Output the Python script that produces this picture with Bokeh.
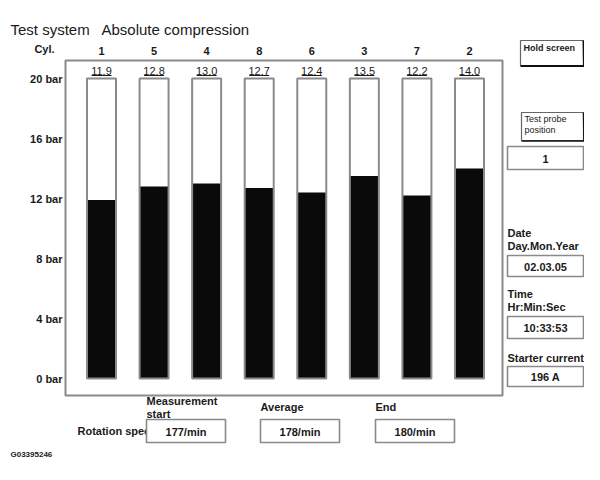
from bokeh.plotting import figure
from bokeh.models import Range1d, ColumnDataSource
from bokeh.embed import file_html
from bokeh.resources import INLINE
from bokeh.core.properties import value

# ---------------- data ----------------
cylinders = ["1", "5", "4", "8", "6", "3", "7", "2"]
compression = [11.9, 12.8, 13.0, 12.7, 12.4, 13.5, 12.2, 14.0]
full_scale = 20
tick_values = [0, 4, 8, 12, 16, 20]
tick_labels = ["0 bar", "4 bar", "8 bar", "12 bar", "16 bar", "20 bar"]
probe_position = "1"
date_text = "02.03.05"
time_text = "10:33:53"
starter_current = "196 A"
speed_labels = ["Measurement\nstart", "Average", "End"]
speed_values = ["177/min", "178/min", "180/min"]

# ---------------- coordinate helpers (reference pixels -> data) ----------------
PX0, PDX = 101.0, 52.57   # x pixel of cylinder index 0, pixels per index
PY0, PDY = 378.0, 15.0    # y pixel of 0 bar, pixels per bar


def X(px):
    return (px - PX0) / PDX


def Y(py):
    return (PY0 - py) / PDY


def W(pw):
    return pw / PDX


def H(ph):
    return ph / PDY


FONT = value("Liberation Sans")
GRAY = "#8a8a8a"
INK = "#1a1a1a"

p = figure(width=584, height=464, output_backend="svg", toolbar_location=None,
           x_range=Range1d(X(0), X(584)), y_range=Range1d(Y(464), Y(0)),
           x_axis_type=None, y_axis_type=None, min_border=0)
p.grid.visible = False
p.outline_line_color = None
p.background_fill_color = "white"


def txt(px, py, s, size="11px", bold=True, align="left", baseline="middle"):
    p.text(x=[X(px)], y=[Y(py)], text=[s], text_font=FONT, text_font_size=size,
           text_font_style="bold" if bold else "normal", text_align=align,
           text_baseline=baseline, text_color=INK, text_line_height=1.15)


def box(x0, y0, x1, y1, lw=1.6, color=GRAY):
    p.quad(left=[X(x0)], right=[X(x1)], top=[Y(y0)], bottom=[Y(y1)],
           fill_color="white", line_color=color, line_width=lw)


# title
txt(10, 29, "Test system", size="15px", bold=False)
txt(101, 29, "Absolute compression", size="15px", bold=False)

# outer frame
p.quad(left=[X(65)], right=[X(502)], top=[Y(60)], bottom=[Y(395)],
       fill_color=None, line_color=GRAY, line_width=2)

# bars
idx = list(range(len(cylinders)))
src = ColumnDataSource(dict(x=idx, v=compression, cyl=cylinders,
                            lbl=[f"{v:.1f}" for v in compression],
                            full=[full_scale] * len(idx)))
bw = W(29)
p.vbar(x="x", width=bw, bottom=0, top="full", source=src,
       fill_color="white", line_color=None)
p.vbar(x="x", width=bw, bottom=0, top="v", source=src,
       fill_color="#0a0a0a", line_color=None)
p.vbar(x="x", width=bw, bottom=0, top="full", source=src,
       fill_color=None, line_color=GRAY, line_width=2)

# value labels (underlined) above each bar
p.text(x="x", y=full_scale + H(8), text="lbl", source=src, text_font=FONT,
       text_font_size="11px", text_align="center", text_baseline="middle",
       text_color=INK)
p.segment(x0=[i - W(10) for i in idx], x1=[i + W(10) for i in idx],
          y0=[full_scale + H(3)] * len(idx), y1=[full_scale + H(3)] * len(idx),
          line_color=INK, line_width=1)

# cylinder numbers
p.text(x="x", y=Y(50), text="cyl", source=src, text_font=FONT,
       text_font_size="11px", text_font_style="bold", text_align="center",
       text_baseline="middle", text_color=INK)
txt(44, 48, "Cyl.", align="center")

# y tick labels
p.text(x=[X(62)] * len(tick_values), y=tick_values, text=tick_labels,
       text_font=FONT, text_font_size="11px", text_font_style="bold",
       text_align="right", text_baseline="middle", text_color=INK)

# right panel
RX = 583
box(520, 40, RX, 65, lw=1.2, color="#666")
p.segment(x0=[X(520), X(RX)], x1=[X(RX + 0.5), X(RX + 0.5)], y0=[Y(65.5), Y(40)],
          y1=[Y(65.5), Y(66)], line_color="#111", line_width=2)
txt(523, 47, "Hold screen", size="9px")

box(521, 112, RX, 140, lw=1.2, color="#666")
p.segment(x0=[X(521), X(RX)], x1=[X(RX + 0.5), X(RX + 0.5)], y0=[Y(140.5), Y(112)],
          y1=[Y(140.5), Y(141)], line_color="#111", line_width=1.5)
txt(524, 124, "Test probe\nposition", size="9px", bold=False)

cx = (507 + RX) / 2
box(507, 146, RX, 169)
txt(cx, 158, probe_position, align="center")

txt(507, 239, "Date\nDay.Mon.Year")
box(507, 255, RX, 276)
txt(cx, 266, date_text, align="center")

txt(507, 300, "Time\nHr:Min:Sec")
box(507, 316, RX, 338)
txt(cx, 327, time_text, align="center")

txt(507, 357, "Starter current")
box(507, 366, RX, 386)
txt(cx, 376, starter_current, align="center")

# bottom: rotation speed
txt(77, 430, "Rotation speed")
box_x = [146, 260, 375]
for bx, lab, val in zip(box_x, speed_labels, speed_values):
    box(bx, 419, bx + 79, 442)
    txt(bx + 39.5, 431, val, align="center")
    if "\n" in lab:
        txt(bx, 407, lab)
    else:
        txt(bx, 406, lab)

txt(10, 454, "G03395246", size="8px")

open("out.html", "w").write(file_html(p, INLINE))
